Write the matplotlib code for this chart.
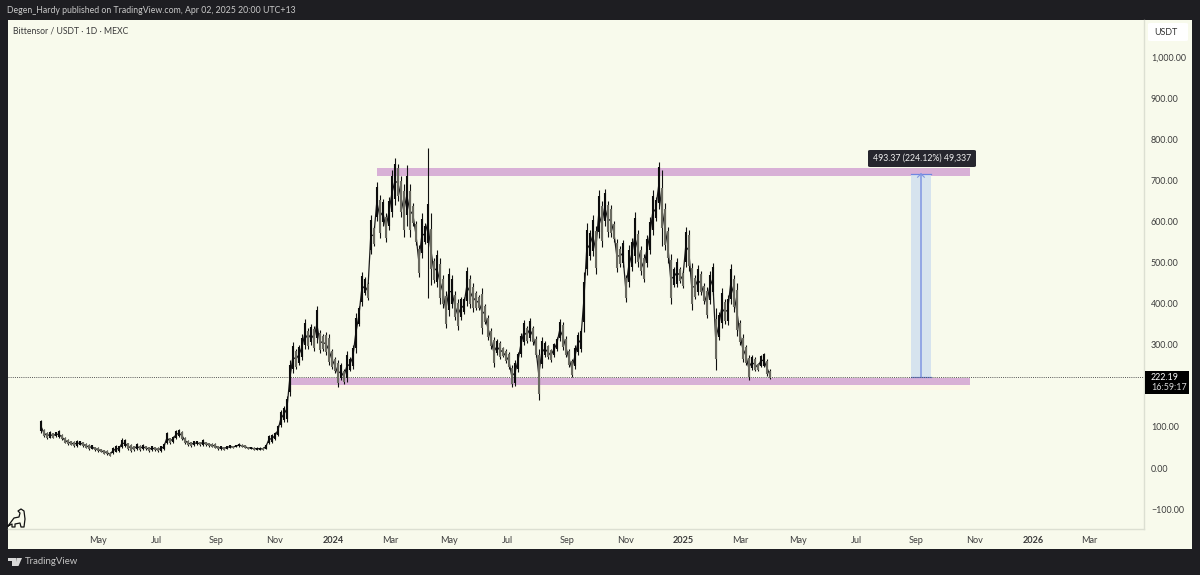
import matplotlib
matplotlib.use("Agg")
import matplotlib.pyplot as plt
import matplotlib.dates as mdates
from matplotlib.patches import Rectangle, FancyBboxPatch, Polygon
from matplotlib.lines import Line2D
import numpy as np
import pandas as pd

plt.rcParams['font.family'] = ['Lato', 'DejaVu Sans']

W, H = 1200, 575

# hand-read price ranges of the candles, every ~3 days (USDT)
price_low = [
 85,75,70,72,72,76,72,68,60,56,
 55,52,52,55,52,48,44,46,42,40,
 38,34,32,28,34,38,40,48,50,44,
 40,42,44,42,44,44,40,42,42,40,
 40,44,58,58,62,70,76,68,58,54,
 52,54,56,54,54,54,52,50,48,44,
 44,44,46,48,48,50,52,50,48,46,
 46,44,44,44,43,46,58,62,68,78,
 100,112,112,175,232,240,250,262,290,290,
 300,285,305,280,285,275,250,240,230,198,
 215,205,210,235,240,280,345,395,420,409,
 520,540,600,560,590,550,580,610,640,650,
 610,562,590,562,590,542,465,510,545,413,
 445,450,441,400,390,340,370,390,360,336,
 360,375,395,390,380,385,385,327,350,311,
 290,246,275,265,270,255,240,198,200,234,
 270,300,303,310,300,270,165,243,270,265,
 258,270,285,310,287,270,245,222,240,275,
 283,330,470,506,515,473,560,538,590,563,
 563,550,477,490,490,405,440,480,500,490,
 470,453,490,520,567,600,630,540,530,500,
 400,440,440,450,437,490,480,384,410,420,
 420,400,364,400,420,238,311,340,350,348,
 400,380,320,299,258,250,214,238,235,235,
 245,245,225,216,
]
price_high = [
 118,95,88,90,86,88,92,82,75,70,
 66,65,68,66,64,60,58,56,52,50,
 46,44,44,38,50,55,54,72,70,62,
 58,54,60,56,58,54,52,54,52,50,
 54,60,88,74,78,92,94,90,76,68,
 64,66,66,64,70,64,62,60,60,54,
 54,52,54,56,54,56,60,58,56,52,
 52,50,50,50,50,58,80,82,88,105,
 140,150,175,262,307,290,300,325,362,340,
 350,345,394,335,325,330,325,290,270,262,
 255,240,285,270,300,377,395,477,465,452,
 615,590,695,665,655,620,660,725,754,740,
 710,690,737,690,645,600,542,620,595,778,
 620,510,530,510,470,430,486,470,430,410,
 417,415,490,470,450,430,420,437,400,372,
 340,319,315,310,295,290,283,250,262,283,
 328,360,345,364,345,320,290,319,310,300,
 290,305,319,362,355,320,290,265,300,330,
 340,478,595,580,615,590,676,650,680,650,
 640,600,558,540,555,470,542,560,624,580,
 540,520,567,610,676,660,745,725,644,587,
 520,490,510,490,480,587,580,500,470,494,
 480,450,440,480,498,390,380,437,410,420,
 496,470,449,360,325,300,275,275,270,255,
 275,281,265,240,
]
first_day = "2023-03-02"
last_day = "2025-04-01"

y_ticks = [-100, 0, 100, 200, 300, 400, 500, 600, 700, 800, 900, 1000]
y_tick_labels = ["\u2212100.00", "0.00", "100.00", "", "300.00", "400.00", "500.00",
                 "600.00", "700.00", "800.00", "900.00", "1,000.00"]
x_tick_dates = ["2023-05-01", "2023-07-01", "2023-09-01", "2023-11-01", "2024-01-01",
                "2024-03-01", "2024-05-01", "2024-07-01", "2024-09-01", "2024-11-01",
                "2025-01-01", "2025-03-01", "2025-05-01", "2025-07-01", "2025-09-01",
                "2025-11-01", "2026-01-01", "2026-03-01"]
x_tick_labels = ["May", "Jul", "Sep", "Nov", "2024", "Mar", "May", "Jul", "Sep", "Nov",
                 "2025", "Mar", "May", "Jul", "Sep", "Nov", "2026", "Mar"]

last_price = 222.19
resistance = (710, 730)
support = (202, 220)
support_glow = (190, 202)
measure_low, measure_high = 222.19, 715.56
zone_start_top = "2024-02-16"
zone_start_bot = "2023-11-18"
zone_end = "2025-10-27"
measure_start = "2025-08-27"
measure_end = "2025-09-16"

FRAME = "#1e1e22"
PANE = "#f8faec"
SEP = "#dcdfd2"
ZONE = "#d8b0d6"

fig = plt.figure(figsize=(W / 100, H / 100), dpi=100, facecolor=FRAME)

def box(x0, y0, x1, y1):
    return [x0 / W, 1 - y1 / H, (x1 - x0) / W, (y1 - y0) / H]

fig.patches.append(Rectangle((8 / W, 1 - 549 / H), (1192 - 8) / W, (549 - 20) / H,
                             transform=fig.transFigure, facecolor=PANE, edgecolor="none",
                             zorder=-5))

ax = fig.add_axes(box(8, 20, 1144, 529))
ax.set_zorder(1)
ax.set_facecolor(PANE)
num = lambda s: mdates.date2num(pd.Timestamp(s))
j24 = num("2024-01-01")
ax.set_xlim(j24 + (8 - 333) / 0.9576, j24 + (1144 - 333) / 0.9576)
ax.set_ylim((468 - 529) / 0.411, (468 - 20) / 0.411)

for s in ("top", "left"):
    ax.spines[s].set_visible(False)
ax.spines["right"].set_color(SEP)
ax.spines["bottom"].set_color(SEP)
ax.spines["right"].set_linewidth(1.0)
ax.spines["bottom"].set_linewidth(1.0)

ax.yaxis.tick_right()
ax.set_yticks(y_ticks)
ax.set_yticklabels(y_tick_labels, fontsize=6.4, color="#3c3c3c")
ax.tick_params(axis="y", length=0, pad=5)
ax.set_xticks([num(d) for d in x_tick_dates])
ax.set_xticklabels(x_tick_labels, fontsize=6.6, color="#3c3c3c")
ax.tick_params(axis="x", length=0, pad=5)
for lab, txt in zip(ax.get_xticklabels(), x_tick_labels):
    if txt.isdigit():
        lab.set_fontweight("bold")
for lab in ax.get_yticklabels():
    lab.set_ha("left")

# zones
ax.add_patch(Rectangle((num(zone_start_top), resistance[0]), num(zone_end) - num(zone_start_top),
                       resistance[1] - resistance[0], facecolor=ZONE, edgecolor="none", zorder=1))
ax.add_patch(Rectangle((num(zone_start_bot), support[0]), num(zone_end) - num(zone_start_bot),
                       support[1] - support[0], facecolor=ZONE, edgecolor="none", zorder=1))
ax.add_patch(Rectangle((num(zone_start_bot), support_glow[0]), num(zone_end) - num(zone_start_bot),
                       support_glow[1] - support_glow[0], facecolor="#fdf7e8", edgecolor="none", zorder=1))

# measure tool
ax.add_patch(Rectangle((num(measure_start), measure_low), num(measure_end) - num(measure_start),
                       measure_high - measure_low, facecolor="#d6e3ee", edgecolor="none", zorder=2))
mid = (num(measure_start) + num(measure_end)) / 2
ax.plot([mid, mid], [measure_low, measure_high], color="#7f95e2", lw=1.1, zorder=3)
ax.plot([num(measure_start), num(measure_end)], [measure_high] * 2, color="#6f86e0", lw=0.9, zorder=3)
ax.plot([num(measure_start), num(measure_end)], [measure_low] * 2, color="#6f86e0", lw=0.9, zorder=3)
ax.plot([mid - 3.5, mid, mid + 3.5], [measure_high - 8, measure_high, measure_high - 8],
        color="#7f95e2", lw=0.8, zorder=3)

# last-price dotted line
ax.axhline(last_price, color="#555555", lw=0.7, ls=(0, (1, 1.2)), zorder=4)

# candles: thin wick over the full range, thicker body around the middle
dates = pd.date_range(first_day, last_day, periods=len(price_low))
xs = mdates.date2num(dates)
lo = np.array(price_low, float)
hi = np.array(price_high, float)
mids = (lo + hi) / 2
half = np.minimum((hi - lo) * 0.38, 48)
rising = np.r_[True, mids[1:] >= mids[:-1]]
ax.plot(xs, mids, color="#1a1a1a", lw=0.9, zorder=4.5)
ax.vlines(xs, lo, hi, color="#101010", lw=0.8, zorder=5)
ax.vlines(xs[~rising], (mids - half)[~rising], (mids + half)[~rising], color="#6a6a60", lw=1.5, zorder=5.5)
ax.vlines(xs[rising], (mids - half)[rising], (mids + half)[rising], color="#0c0c0c", lw=1.5, zorder=6)

def ftext(x, y, s, **kw):
    return fig.text(x / W, 1 - y / H, s, va="center", **kw)

ftext(7, 10.5, "Degen_Hardy published on TradingView.com, Apr 02, 2025 20:00 UTC+13",
      fontsize=6.3, color="#c9c9c9", ha="left")
ftext(13, 30.5, "Bittensor / USDT \u00b7 1D \u00b7 MEXC", fontsize=6.25, color="#3a3a3a", ha="left")
ftext(25, 562, "TradingView", fontsize=6.9, color="#c4c4c4", ha="left")

# USDT button
fig.patches.append(FancyBboxPatch((1148 / W, 1 - 41 / H), 40 / W, 18 / H,
                                  boxstyle="round,pad=0,rounding_size=0.002",
                                  transform=fig.transFigure, facecolor="#ffffff", edgecolor="none",
                                  zorder=5))
ftext(1154, 32.5, "USDT", fontsize=6.4, color="#333333", ha="left", zorder=6)

# last price tag
fig.patches.append(Rectangle((1145 / W, 1 - 394 / H), 44 / W, 23 / H,
                             transform=fig.transFigure, facecolor="#000000", edgecolor="none",
                             zorder=5))
ftext(1151, 377, "222.19", fontsize=6.4, color="#ffffff", ha="left", zorder=6)
ftext(1151, 387.5, "16:59:17", fontsize=6.4, color="#d8d8d8", ha="left", zorder=6)

# measure label
fig.patches.append(FancyBboxPatch((868 / W, 1 - 167 / H), 108 / W, 17 / H,
                                  boxstyle="round,pad=0,rounding_size=0.002",
                                  transform=fig.transFigure, facecolor="#26262e", edgecolor="none",
                                  zorder=5))
ftext(922, 158.5, "493.37 (224.12%) 49,337", fontsize=6.3, color="#f0f0f0", ha="center", zorder=6)

# TradingView mark
for pts in ([(8, 558), (16, 558), (16, 566), (12, 566), (12, 561), (8, 561)],
            [(16.5, 558), (22, 558), (18.5, 566), (15.5, 566)]):
    fig.patches.append(Polygon([(x / W, 1 - y / H) for x, y in pts], closed=True,
                               transform=fig.transFigure, facecolor="#d8d8d8", edgecolor="none",
                               zorder=5))

# dinosaur icon outline
dino = [(8, 526), (14, 518), (19, 517), (20, 513), (18, 511), (21, 509), (24, 511), (25, 519),
        (24, 527), (21, 527), (20, 523), (15, 524), (15, 527), (12, 527), (12, 524), (8, 526)]
dino_line = Line2D([x / W for x, _ in dino], [1 - y / H for _, y in dino], color="#111111",
                   lw=0.9, transform=fig.transFigure, zorder=6)
fig.add_artist(dino_line)

fig.savefig("out.png", dpi=100, facecolor=FRAME)
